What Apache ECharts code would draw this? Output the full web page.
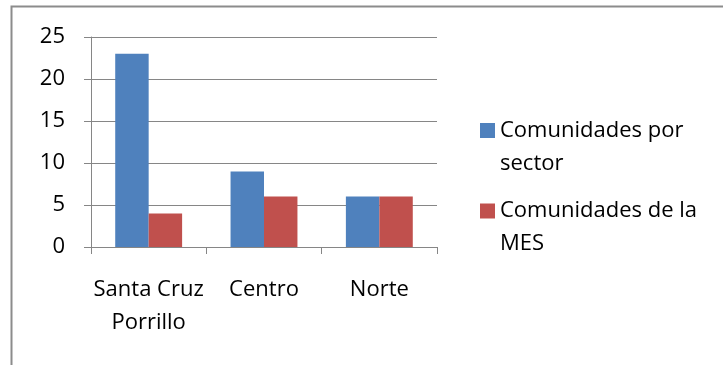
<!DOCTYPE html>
<html>
<head>
<meta charset="utf-8">
<script src="https://cdn.jsdelivr.net/npm/echarts@6/dist/echarts.min.js"></script>
<style>
  html, body { margin: 0; padding: 0; background: #fff; }
  #chart { width: 723px; height: 365px; }
</style>
</head>
<body>
<div id="chart"></div>
<script>
// Communities per sector vs. communities in the MES
const categories = ['Santa Cruz\nPorrillo', 'Centro', 'Norte'];
const seriesNames = ['Comunidades por sector', 'Comunidades de la MES'];
const legendLabels = ['Comunidades por\nsector', 'Comunidades de la\nMES'];
const porSector = [23, 9, 6];
const deLaMes = [4, 6, 6];
const yTicks = [0, 5, 10, 15, 20, 25];

const FONT = '"Open Sans"';
const FONT_SIZE = 22;
const GREY = '#868686';

const chart = echarts.init(document.getElementById('chart'), null, { renderer: 'canvas' });

// A blank leading line keeps the swatch level with the first text line
const legendText = { fontFamily: FONT, fontSize: FONT_SIZE, color: '#000', lineHeight: 33 };
function legendFor(i, top) {
  return {
    orient: 'vertical',
    left: 480,
    top: top,
    padding: 0,
    itemWidth: 15,
    itemHeight: 15,
    icon: 'rect',
    data: [seriesNames[i]],
    formatter: () => ' \n' + legendLabels[i],
    textStyle: legendText
  };
}

chart.setOption({
  animation: false,
  backgroundColor: '#fff',
  textStyle: { fontFamily: FONT },
  graphic: [{
    type: 'rect',
    shape: { x: 11.5, y: 6.5, width: 900, height: 600 },
    style: { fill: 'none', stroke: '#8c8c8c', lineWidth: 2 },
    silent: true
  }],
  grid: { left: 91, top: 37, width: 346, height: 210, containLabel: false },
  legend: [legendFor(0, 81), legendFor(1, 161.5)],
  xAxis: {
    type: 'category',
    data: categories,
    axisLine: { lineStyle: { color: GREY, width: 1 } },
    axisTick: { show: true, length: 7, lineStyle: { color: GREY } },
    axisLabel: { color: '#000', fontFamily: FONT, fontSize: FONT_SIZE, lineHeight: 33, margin: 26, interval: 0 }
  },
  yAxis: {
    type: 'value',
    min: yTicks[0],
    max: yTicks[yTicks.length - 1],
    interval: 5,
    axisLine: { show: true, lineStyle: { color: GREY, width: 1 } },
    axisTick: { show: true, length: 7, lineStyle: { color: GREY } },
    splitLine: { show: true, lineStyle: { color: GREY, width: 1 } },
    axisLabel: { color: '#000', fontFamily: FONT, fontSize: FONT_SIZE, margin: 26 }
  },
  series: [{
    name: seriesNames[0],
    type: 'bar',
    data: porSector,
    barGap: '0%',
    barCategoryGap: '42%',
    itemStyle: { color: '#4F81BD' }
  }, {
    name: seriesNames[1],
    type: 'bar',
    data: deLaMes,
    barGap: '0%',
    barCategoryGap: '42%',
    itemStyle: { color: '#C0504D' }
  }]
});
</script>
</body>
</html>
